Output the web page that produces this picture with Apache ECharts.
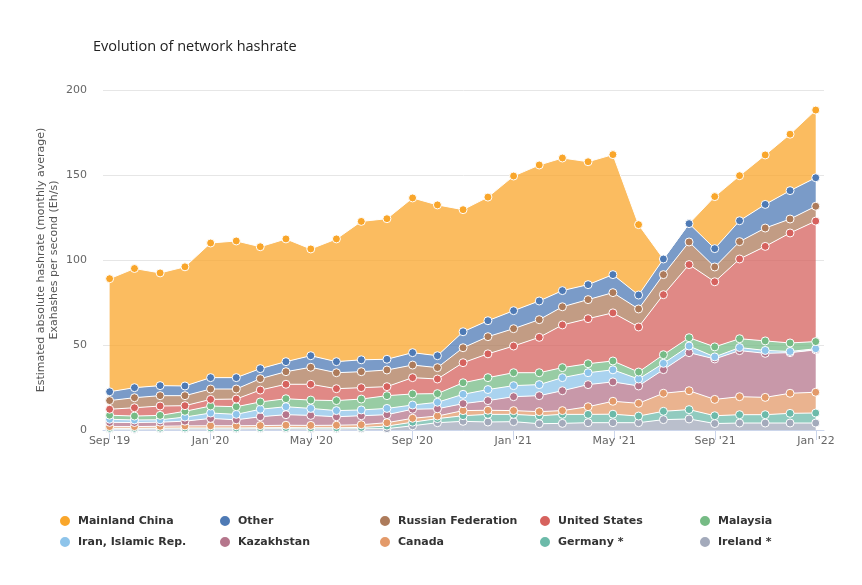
<!DOCTYPE html>
<html>
<head>
<meta charset="UTF-8">
<title>Evolution of network hashrate</title>
<script src="https://cdn.jsdelivr.net/npm/echarts@6/dist/echarts.min.js"></script>
<style>
  html, body { margin: 0; padding: 0; background: #fff; }
  #chart { width: 862px; height: 585px; }
</style>
</head>
<body>
<div id="chart"></div>
<script>
// months (Sep 2019 .. Jan 2022)
var months = ['2019-09','2019-10','2019-11','2019-12','2020-01','2020-02','2020-03','2020-04','2020-05','2020-06',
              '2020-07','2020-08','2020-09','2020-10','2020-11','2020-12','2021-01','2021-02','2021-03','2021-04',
              '2021-05','2021-06','2021-07','2021-08','2021-09','2021-10','2021-11','2021-12','2022-01'];
var monthLabels = ["Sep '19","Oct '19","Nov '19","Dec '19","Jan '20","Feb '20","Mar '20","Apr '20","May '20","Jun '20",
                   "Jul '20","Aug '20","Sep '20","Oct '20","Nov '20","Dec '20","Jan '21","Feb '21","Mar '21","Apr '21",
                   "May '21","Jun '21","Jul '21","Aug '21","Sep '21","Oct '21","Nov '21","Dec '21","Jan '22"];

// monthly average hashrate, EH/s
var mainlandChina = [66.5,70.1,66.3,70.1,79.2,80.4,71.7,72.2,62.8,72.2,81.4,82.7,91.0,88.7,71.8,72.7,79.2,80.0,78.0,72.3,70.6,41.4,0,0,30.6,26.5,29.1,33.2,39.8];
var other        = [5.2,5.9,5.9,5.7,6.7,6.7,5.9,5.9,6.8,6.5,7.0,6.3,7.3,7.0,9.4,9.4,10.6,11.0,9.5,8.8,10.6,8.2,9.2,10.8,10.8,12.3,13.9,16.7,16.8];
var russia       = [5.1,5.9,6.1,5.9,6.1,5.9,6.7,7.4,10.0,9.4,9.4,9.8,7.4,6.7,8.8,10.1,10.2,10.4,10.7,11.2,11.9,10.6,11.8,13.3,8.7,10.2,10.8,8.2,8.7];
var unitedStates = [3.5,4.9,5.5,3.3,3.9,4.5,7.0,8.5,9.3,7.0,6.7,5.3,9.6,8.6,11.8,14.0,15.7,20.8,25.1,26.5,28.3,26.5,35.3,43.0,38.3,46.9,55.6,64.7,70.9];
var malaysia     = [2.4,2.3,2.6,3.4,4.1,4.5,4.3,4.7,4.9,5.9,6.4,7.5,6.5,5.1,6.8,7.0,7.6,7.0,5.9,5.3,5.2,4.1,5.1,4.9,5.9,5.2,5.6,5.0,4.2];
var iran         = [1.8,1.5,1.4,2.4,3.2,3.2,4.4,4.7,4.1,3.6,3.4,3.7,2.5,3.8,5.5,6.5,6.5,6.5,7.7,7.0,7.1,4.1,3.7,3.9,1.2,1.8,1.7,0.7,0.7];
var kazakhstan   = [2.5,2.4,2.4,2.8,4.3,3.5,5.2,6.2,5.9,5.0,5.3,4.7,5.3,4.3,4.1,5.7,8.2,9.4,11.7,13.0,11.4,10.2,13.9,22.4,23.8,27.1,25.9,23.9,24.9];
var canada       = [1.0,1.0,1.1,1.2,1.3,1.3,1.3,1.4,1.4,1.5,1.6,2.0,2.3,1.5,3.0,2.4,2.2,2.4,2.2,4.5,7.6,7.5,10.6,11.1,9.6,10.6,10.2,11.8,12.2];
var germany      = [0.5,0.5,0.5,0.6,0.6,0.6,0.6,0.7,0.7,0.7,0.8,1.5,2.1,2.4,3.3,4.5,4.3,4.7,5.3,4.9,5.0,3.9,4.9,5.5,4.6,4.9,4.9,5.7,5.9];
var ireland      = [0.5,0.5,0.6,0.6,0.6,0.6,0.7,0.7,0.6,0.6,0.7,0.8,2.5,4.3,5.1,4.7,4.9,3.7,3.9,4.3,4.3,4.3,6.1,6.5,3.8,4.1,4.1,4.1,4.1];

// legend order (top of stack first)
var seriesList = [
  { name: 'Mainland China',      color: '#f9a62b', data: mainlandChina },
  { name: 'Other',               color: '#4e7ab5', data: other },
  { name: 'Russian Federation',  color: '#ad7b5b', data: russia },
  { name: 'United States',       color: '#d6625e', data: unitedStates },
  { name: 'Malaysia',            color: '#76bb85', data: malaysia },
  { name: 'Iran, Islamic Rep.',  color: '#8ec4ea', data: iran },
  { name: 'Kazakhstan',          color: '#b5768c', data: kazakhstan },
  { name: 'Canada',              color: '#e39a6a', data: canada },
  { name: 'Germany *',           color: '#6cbaa9', data: germany },
  { name: 'Ireland *',           color: '#a3aabb', data: ireland }
];

function toTime(s) {
  var p = s.split('-');
  return new Date(+p[0], +p[1] - 1, p[2] ? +p[2] : 1).getTime();
}
var times = months.map(toTime);

var myChart = echarts.init(document.getElementById('chart'));

// stack from the bottom: last legend entry first
var series = seriesList.slice().reverse().map(function (s) {
  return {
    name: s.name,
    type: 'line',
    stack: 'total',
    xAxisIndex: 0,
    yAxisIndex: 0,
    symbol: 'circle',
    symbolSize: 8,
    data: s.data.map(function (v, i) {
      var item = { value: [times[i], v] };
      if (v === 0) item.symbol = 'none';   // no hashrate reported
      return item;
    }),
    lineStyle: { color: '#fff', width: 1 },
    itemStyle: { color: s.color, borderColor: '#fff', borderWidth: 1 },
    areaStyle: { color: s.color, opacity: 0.75 },
    emphasis: { disabled: true }
  };
});

// one legend per item so the columns line up
var legends = seriesList.map(function (s, i) {
  return {
    data: [s.name],
    left: 53 + (i % 5) * 160,
    top: 509 + Math.floor(i / 5) * 21,
    icon: 'circle',
    itemWidth: 16,
    itemHeight: 12,
    textStyle: { fontFamily: 'DejaVu Sans', fontSize: 11, fontWeight: 'bold', color: '#333' }
  };
});

var labelFont = { fontFamily: 'DejaVu Sans', fontSize: 11, color: '#666' };

var option = {
  animation: false,
  backgroundColor: '#fff',
  title: {
    text: 'Evolution of network hashrate',
    left: 88,
    top: 34,
    textStyle: { fontFamily: 'Open Sans', fontSize: 14.5, fontWeight: 'normal', color: '#222' }
  },
  legend: legends,
  grid: [
    { left: 103, right: 38, top: 90, bottom: 155 },      // plot area
    { left: 109.5, right: 46, top: 90, bottom: 155 }     // first..last month, for ticks and labels
  ],
  xAxis: [
    {
      type: 'time',
      gridIndex: 0,
      min: toTime('2019-08-24'),
      max: toTime('2022-01-11'),
      axisLine: { lineStyle: { color: '#ccd6eb' } },
      axisTick: { show: false },
      axisLabel: { show: false },
      splitLine: { show: false }
    },
    {
      type: 'category',
      gridIndex: 1,
      data: monthLabels,
      boundaryGap: false,
      axisLine: { show: false },
      axisTick: { show: true, interval: 3, length: 10, lineStyle: { color: '#ccd6eb' } },
      axisLabel: Object.assign({ interval: 3, margin: 6 }, labelFont),
      splitLine: { show: false }
    }
  ],
  yAxis: [
    {
      type: 'value',
      gridIndex: 0,
      min: 0,
      max: 200,
      interval: 50,
      name: 'Estimated absolute hashrate (monthly average)\nExahashes per second (Eh/s)',
      nameLocation: 'middle',
      nameGap: 42,
      nameMoveOverlap: false,
      nameRotate: 90,
      nameTextStyle: { fontFamily: 'DejaVu Sans', fontSize: 11, color: '#555', lineHeight: 13 },
      axisLine: { show: false },
      axisTick: { show: false },
      axisLabel: Object.assign({ margin: 16 }, labelFont),
      splitLine: { lineStyle: { color: '#e6e6e6' } }
    },
    {
      type: 'value',
      gridIndex: 1,
      min: 0,
      max: 200,
      show: false
    }
  ],
  series: series
};

myChart.setOption(option);
</script>
</body>
</html>
